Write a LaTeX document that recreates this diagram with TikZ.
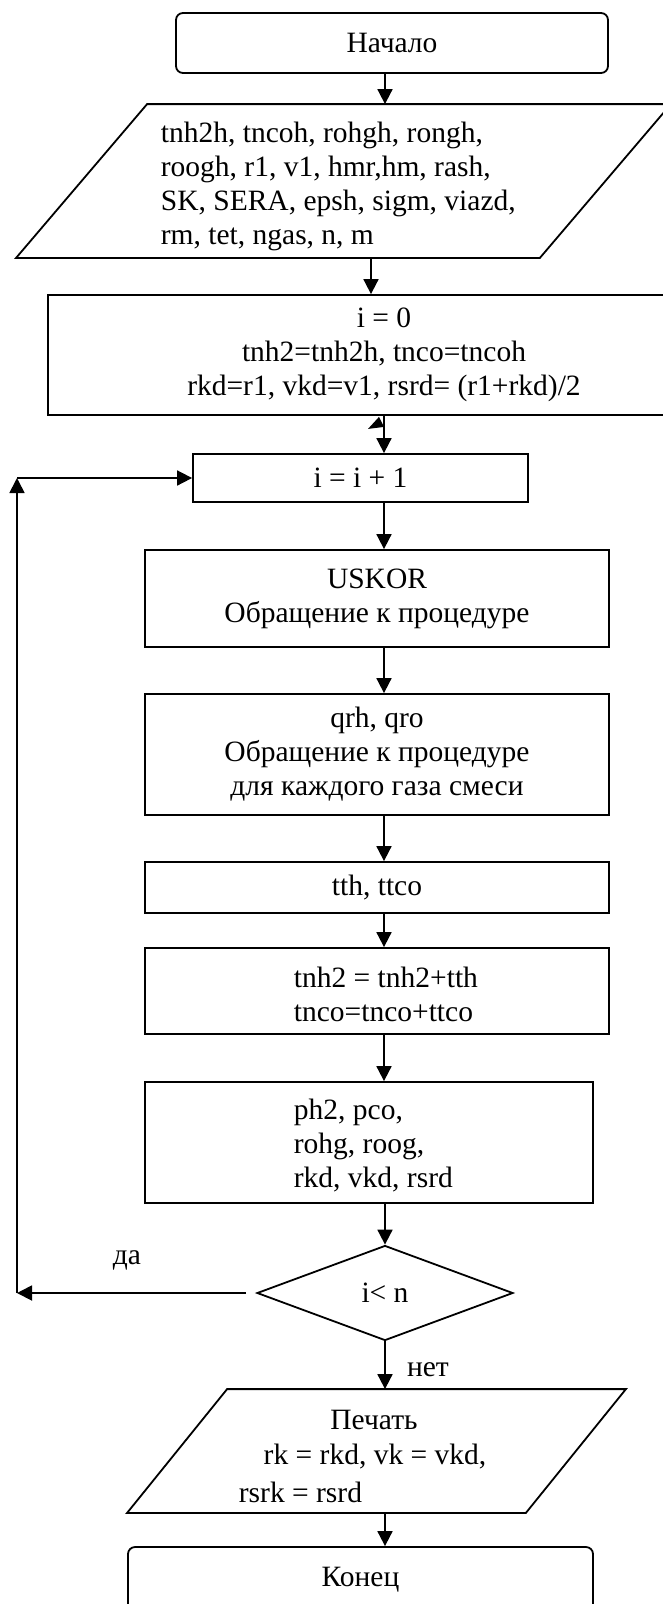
\documentclass[tikz,border=0pt]{standalone}
\usepackage{fontspec}
\setmainfont{Liberation Serif}
\usetikzlibrary{arrows.meta,calc,shapes.geometric}
\tikzset{
  common/.style={line width=1.8pt, inner sep=0pt, font=\fontsize{29.5}{34}\selectfont},
  block/.style={common, draw, rectangle, align=center},
  term/.style={block, rounded corners=7pt},
  ghost/.style={common, rectangle},
  cond/.style={common, draw, diamond, aspect=2.7},
  txt/.style={common, align=left},
  flow/.style={line width=1.8pt, -{Triangle[length=15pt,width=15pt]}},
  edge/.style={line width=1.8pt, line join=miter},
}
\begin{document}
\begin{tikzpicture}[x=1pt,y=-1pt]
\fill[white] (0,0) rectangle (662,1604);
\useasboundingbox (0,0) rectangle (662,1604);

% axes of the vertical connectors
\coordinate (ax) at (385,0);
\coordinate (ay) at (371,0);
\coordinate (az) at (384,0);

% terminal: start
\node[term, minimum width=432pt, minimum height=60pt] (start) at (392,43) {Начало};

% input data (parallelogram)
\node[ghost, minimum width=653pt, minimum height=152pt] (in) at (343.5,181) {};
\draw[edge] ($(in.north west)+(131,0)$) -- (in.north east)
  -- ($(in.south east)+(-131,0)$) -- (in.south west) -- cycle;
\node[txt, anchor=west] (intext) at (160,186)
  {tnh2h, tncoh, rohgh, rongh,\\roogh, r1, v1, hmr,hm, rash,\\SK, SERA, epsh, sigm, viazd,\\rm, tet, ngas, n, m};

% initialisation
\node[block, minimum width=672pt, minimum height=120pt] (init) at (384,355)
  {i = 0\\tnh2=tnh2h, tnco=tncoh\\rkd=r1, vkd=v1, rsrd= (r1+rkd)/2};

% loop counter
\node[block, minimum width=335pt, minimum height=48pt] (inc) at (360.5,478) {i = i + 1};

% procedure calls
\node[block, minimum width=464pt, minimum height=97pt] (usk) at (377,598.5)
  {USKOR\\Обращение к процедуре};
\node[block, minimum width=464pt, minimum height=121pt] (qrh) at (377,754.5)
  {qrh, qro\\Обращение к процедуре\\для каждого газа смеси};
\node[block, minimum width=464pt, minimum height=51pt] (tth) at (377,887.5) {tth, ttco};

% updates
\node[block, minimum width=464pt, minimum height=86pt] (upd) at (377,991) {};
\node[txt, anchor=west] (updtext) at (293,994) {tnh2 = tnh2+tth\\tnco=tnco+ttco};
\node[block, minimum width=448pt, minimum height=121pt] (ph) at (369,1142.5) {};
\node[txt, anchor=west] (phtext) at (293,1146) {ph2, pco,\\rohg, roog,\\rkd, vkd, rsrd};

% decision
\node[cond, minimum width=256pt, minimum height=95pt] (dec) at (385,1293) {i< n};

% output (parallelogram)
\node[ghost, minimum width=497pt, minimum height=122pt] (out) at (376.5,1451) {};
\draw[edge] ($(out.north west)+(100,0)$) -- (out.north east)
  -- ($(out.south east)+(-100,0)$) -- (out.south west) -- cycle;
\node[common] (outa) at (374,1420) {Печать};
\node[common] (outb) at (375,1457) {rk = rkd, vk = vkd,};
\node[common, anchor=west] (outc) at (238,1492) {rsrk = rsrd};

% terminal: end
\node[term, minimum width=465pt, minimum height=66pt] (end) at (360.5,1580) {Конец};

% branch labels
\node[common] (yes) at (127,1260) {да};
\node[common] (no) at (428,1370) {нет};

% loop-back path
\coordinate (lb) at (17,1293);
\coordinate (lt) at (17,478);

% connectors
\draw[flow] (start.south -| ax) -- (in.north -| ax);
\draw[flow] (in.south -| ay) -- (init.north -| ay);
\draw[flow] (init.south -| az) -- (inc.north -| az);
\fill ($(init.south -| az)+(-5,1)$) -- ++(-11,12) -- ++(16,-2) -- cycle;
\draw[flow] (inc.south -| az) -- (usk.north -| az);
\draw[flow] (usk.south -| az) -- (qrh.north -| az);
\draw[flow] (qrh.south -| az) -- (tth.north -| az);
\draw[flow] (tth.south -| az) -- (upd.north -| az);
\draw[flow] (upd.south -| az) -- (ph.north -| az);
\draw[flow] (ph.south -| ax) -- (dec.north);
\draw[flow] (dec.south) -- (out.north -| ax);
\draw[flow] (out.south -| ax) -- (end.north -| ax);
\draw[flow, shorten <=10pt] (dec.west) -- (lb);
\draw[flow] (lb) -- (lt);
\draw[flow] (lt) -- (inc.west);
\end{tikzpicture}
\end{document}
